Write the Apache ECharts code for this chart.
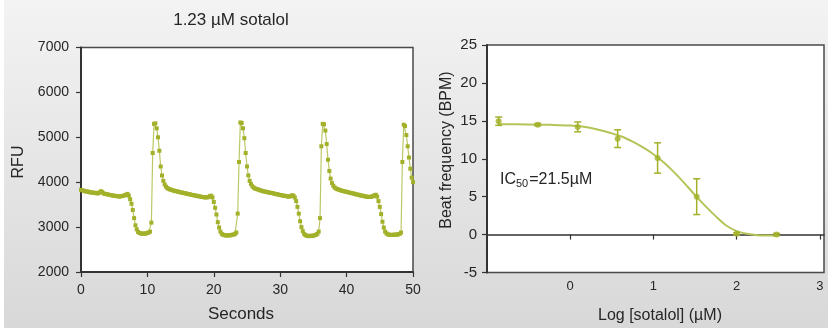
<!DOCTYPE html>
<html>
<head>
<meta charset="utf-8">
<script src="https://cdn.jsdelivr.net/npm/echarts@6/dist/echarts.min.js"></script>
<style>
  html, body { margin: 0; padding: 0; background: #fff; }
  #chart {
    width: 828px; height: 336px;
    background: linear-gradient(to bottom, #f3f3f3, #d8d8d8) 4px 0 / 824px 328px no-repeat, #fff;
  }
</style>
</head>
<body>
<div id="chart"></div>
<script>
// Calcium transient trace: one RFU sample every 0.2 s, 0 – 50 s
const sampleStep = 0.2;
const rfuValues = [
  3830, 3820, 3810, 3800, 3790, 3795, 3780, 3775, 3770, 3770,
  3760, 3765, 3750, 3755, 3770, 3800, 3780, 3750, 3740, 3735,
  3730, 3720, 3715, 3710, 3700, 3700, 3690, 3695, 3685, 3680,
  3690, 3690, 3700, 3710, 3720, 3740, 3700, 3620, 3520, 3380,
  3200, 3040, 2950, 2890, 2870, 2860, 2850, 2860, 2850, 2860,
  2870, 2880, 2900, 3100, 4650, 5300, 5310, 5200, 5000, 4700,
  4350, 4150, 4030, 3950, 3900, 3870, 3850, 3840, 3830, 3820,
  3810, 3800, 3800, 3790, 3780, 3775, 3770, 3760, 3755, 3750,
  3740, 3735, 3730, 3720, 3715, 3710, 3700, 3700, 3690, 3685,
  3680, 3670, 3670, 3660, 3665, 3660, 3670, 3690, 3700, 3660,
  3560, 3430, 3280, 3110, 2990, 2900, 2850, 2830, 2820, 2815,
  2810, 2820, 2815, 2820, 2830, 2835, 2850, 2880, 3300, 4450,
  5330, 5320, 5200, 4980, 4650, 4350, 4150, 4030, 3960, 3910,
  3880, 3860, 3850, 3840, 3830, 3820, 3810, 3800, 3795, 3790,
  3780, 3775, 3770, 3760, 3760, 3750, 3740, 3735, 3730, 3720,
  3715, 3710, 3700, 3700, 3690, 3690, 3680, 3680, 3690, 3710,
  3700, 3660, 3580, 3450, 3300, 3130, 3000, 2910, 2850, 2820,
  2810, 2800, 2800, 2810, 2800, 2810, 2820, 2830, 2850, 2900,
  3200, 4800, 5300, 5290, 5150, 4850, 4500, 4250, 4080, 3980,
  3920, 3880, 3860, 3845, 3835, 3825, 3815, 3805, 3800, 3790,
  3785, 3780, 3770, 3760, 3755, 3750, 3740, 3730, 3725, 3720,
  3710, 3700, 3700, 3690, 3685, 3680, 3670, 3675, 3670, 3680,
  3690, 3710, 3720, 3680, 3580, 3450, 3290, 3120, 2990, 2900,
  2860, 2840, 2830, 2825, 2830, 2825, 2830, 2835, 2830, 2840,
  2850, 2880, 4450, 5280, 5250, 5050, 4800, 4550, 4300, 4100,
  4000
];
const secondsTicks = [0, 10, 20, 30, 40, 50];
const rfuTicks = [2000, 3000, 4000, 5000, 6000, 7000];

// Concentration–response: log10 dose (µM), mean beat rate and error
const logDose  = [-0.86, -0.39, 0.09, 0.57, 1.05, 1.52, 2.00, 2.48];
const beatMean = [14.95, 14.5, 14.2, 12.65, 10.1, 5.0, 0.1, 0.0];
const beatErr  = [0.55, 0.15, 0.65, 1.17, 2.0, 2.36, 0.15, 0.15];
// fitted sigmoid, sampled along log dose
const fitLog  = [-0.86, -0.5, -0.25, 0, 0.25, 0.5, 0.625, 0.75, 0.875, 1.0, 1.125, 1.25,
                 1.375, 1.5, 1.625, 1.75, 1.875, 2.0, 2.125, 2.25, 2.37, 2.48];
const fitBeat = [14.55, 14.52, 14.47, 14.37, 14.05, 13.35, 12.9, 12.25, 11.5, 10.6, 9.5, 8.2,
                 6.75, 5.2, 3.75, 2.4, 1.2, 0.45, 0.1, -0.08, -0.12, -0.08];
const logTicks = [0, 1, 2, 3];
const bpmTicks = [-5, 0, 5, 10, 15, 20, 25];

const FONT = '"Liberation Sans", Arial, sans-serif';
const INK = '#262626';
const DOT = '#a3b12a';
const LINE = '#bcc866';

const chart = echarts.init(document.getElementById('chart'), null, { renderer: 'canvas' });

const tracePoints = rfuValues.map((v, i) => [+(i * sampleStep).toFixed(1), v]);
const errData = logDose.map((x, i) => [x, beatMean[i] - beatErr[i], beatMean[i] + beatErr[i]]);
const fitData = fitLog.map((x, i) => [x, fitBeat[i]]);
const meanData = logDose.map((x, i) => [x, beatMean[i]]);

function renderErr(params, api) {
  const x = api.value(0);
  const top = api.coord([x, api.value(2)]);
  const bot = api.coord([x, api.value(1)]);
  const w = 3.5;
  const style = { stroke: DOT, lineWidth: 1.5 };
  return {
    type: 'group',
    children: [
      { type: 'line', shape: { x1: top[0], y1: top[1], x2: bot[0], y2: bot[1] }, style },
      { type: 'line', shape: { x1: top[0] - w, y1: top[1], x2: top[0] + w, y2: top[1] }, style },
      { type: 'line', shape: { x1: bot[0] - w, y1: bot[1], x2: bot[0] + w, y2: bot[1] }, style }
    ]
  };
}

const axisLine = { show: true, onZero: false, lineStyle: { color: '#333', width: 2 } };
const tick = { show: true, length: 5, lineStyle: { color: '#333', width: 1.2 } };

function txt(text, x, y, size, rotate) {
  return {
    type: 'text', x, y, rotation: rotate ? Math.PI / 2 : 0, silent: true,
    style: { text, align: 'center', verticalAlign: 'middle', font: size + 'px ' + FONT, fill: INK }
  };
}

chart.setOption({
  animation: false,
  grid: [
    { left: 81, top: 47.5, right: 415, bottom: 64, show: true, backgroundColor: '#fff', borderColor: '#4a4a4a', borderWidth: 1.5 },
    { left: 487, top: 45, right: 4, bottom: 63.5, show: true, backgroundColor: '#fff', borderColor: '#4a4a4a', borderWidth: 1.5 }
  ],
  xAxis: [
    {
      gridIndex: 0, type: 'value',
      min: secondsTicks[0], max: secondsTicks[secondsTicks.length - 1],
      interval: secondsTicks[1] - secondsTicks[0],
      axisLine, axisTick: tick, splitLine: { show: false },
      axisLabel: { margin: 11, fontSize: 14, fontFamily: FONT, color: INK, formatter: v => String(v) }
    },
    {
      gridIndex: 1, type: 'value', min: -1, max: 3.05, interval: 1,
      axisLine: { show: true, onZero: true, lineStyle: { color: '#333', width: 1.5 } },
      axisTick: tick, splitLine: { show: false },
      axisLabel: {
        margin: 7, fontSize: 13, fontFamily: FONT, color: INK, showMinLabel: false, showMaxLabel: false,
        formatter: v => (logTicks.includes(v) ? String(v) : '')
      }
    }
  ],
  yAxis: [
    {
      gridIndex: 0, type: 'value',
      min: rfuTicks[0], max: rfuTicks[rfuTicks.length - 1], interval: rfuTicks[1] - rfuTicks[0],
      axisLine, axisTick: tick, splitLine: { show: false },
      axisLabel: { margin: 12, fontSize: 14, fontFamily: FONT, color: INK, formatter: v => String(v) }
    },
    {
      gridIndex: 1, type: 'value',
      min: bpmTicks[0], max: bpmTicks[bpmTicks.length - 1], interval: bpmTicks[1] - bpmTicks[0],
      axisLine, axisTick: tick, splitLine: { show: false },
      axisLabel: { margin: 10, fontSize: 15, fontFamily: FONT, color: INK, formatter: v => String(v) }
    }
  ],
  series: [
    {
      type: 'line', xAxisIndex: 0, yAxisIndex: 0, data: tracePoints,
      symbol: 'rect', symbolSize: 4, showAllSymbol: true,
      itemStyle: { color: DOT }, lineStyle: { color: LINE, width: 1.2 }, z: 3
    },
    {
      type: 'line', xAxisIndex: 1, yAxisIndex: 1, data: fitData,
      smooth: 0.3, symbol: 'none',
      lineStyle: { color: '#b6c457', width: 2 }, z: 2
    },
    {
      type: 'custom', xAxisIndex: 1, yAxisIndex: 1, data: errData,
      renderItem: renderErr, z: 3
    },
    {
      type: 'scatter', xAxisIndex: 1, yAxisIndex: 1, data: meanData,
      symbol: 'circle', symbolSize: 6, itemStyle: { color: DOT }, z: 4
    }
  ],
  graphic: [
    txt('1.23 µM sotalol', 231, 20, 17),
    txt('RFU', 19, 162, 16, true),
    txt('Seconds', 241, 314, 17),
    txt('Beat frequency (BPM)', 447, 150, 16, true),
    txt('Log [sotalol] (µM)', 660, 316, 16),
    {
      type: 'text', x: 500, y: 180, silent: true,
      style: {
        text: '{a|IC}{s|50}{a|=21.5µM}', align: 'left', verticalAlign: 'middle',
        rich: {
          a: { fontSize: 16, fontFamily: FONT, fill: INK, color: INK },
          s: { fontSize: 11, fontFamily: FONT, fill: INK, color: INK, padding: [7, 1, 0, 0] }
        }
      }
    }
  ]
});
</script>
</body>
</html>
